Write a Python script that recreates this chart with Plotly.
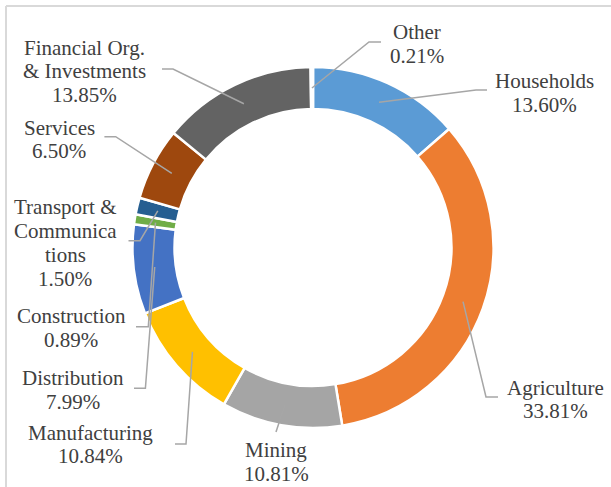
import math
import plotly.graph_objects as go

# ---- data ----
categories = ["Households", "Agriculture", "Mining", "Manufacturing", "Distribution",
              "Construction", "Transport & Communications", "Services",
              "Financial Org. & Investments", "Other"]
values = [13.60, 33.81, 10.81, 10.84, 7.99, 0.89, 1.50, 6.50, 13.85, 0.21]
label_text = ["Households", "Agriculture", "Mining", "Manufacturing", "Distribution",
              "Construction", "Transport &<br>Communica<br>tions", "Services",
              "Financial Org.<br>& Investments", "Other"]
colors = ["#5B9BD5", "#ED7D31", "#A5A5A5", "#FFC000", "#4472C4",
          "#70AD47", "#255E91", "#9E480E", "#636363", "#997300"]

# ---- layout (pixel geometry) ----
W, H = 611, 487
CX, CY = 313.0, 247.5
R_OUT = 180.5
HOLE = 0.767
R_MID = (R_OUT + R_OUT * HOLE) / 2
FONT = "Liberation Serif"
FONT_SIZE = 21
LINE_H = 23.7

# label block centres and leader-line elbow/end points (layout, in pixels)
label_pos = {
    "Households": (544, 93),
    "Agriculture": (555, 399.5),
    "Mining": (276, 462),
    "Manufacturing": (90, 444.5),
    "Distribution": (73, 390),
    "Construction": (71, 328),
    "Transport & Communications": (65, 243),
    "Services": (59, 139.5),
    "Financial Org. & Investments": (84, 71.3),
    "Other": (417, 44),
}
leader_pts = {
    "Households": [(476, 90), (487, 90)],
    "Agriculture": [(486, 397), (498, 397)],
    "Mining": [(276, 432)],
    "Manufacturing": [(186, 444), (175, 444)],
    "Distribution": [(145.4, 388.3), (134, 388.3)],
    "Construction": [(148.3, 326.7), (136, 326.7)],
    "Transport & Communications": [(140, 240.7), (128.5, 240.7)],
    "Services": [(115.7, 136.7), (104.4, 136.7)],
    "Financial Org. & Investments": [(173, 69), (162, 69)],
    "Other": [(369, 42), (381, 42)],
}

fig = go.Figure()
fig.add_trace(go.Pie(
    labels=categories, values=values, sort=False, direction="clockwise", rotation=0,
    hole=HOLE, marker=dict(colors=colors, line=dict(color="white", width=2.5)),
    textinfo="none", hoverinfo="label+percent", showlegend=False,
    domain=dict(x=[(CX - R_OUT) / W, (CX + R_OUT) / W],
                y=[(H - CY - R_OUT) / H, (H - CY + R_OUT) / H]),
))

total = sum(values)
cum = 0.0
shapes = []
annotations = []
for cat, v, txt in zip(categories, values, label_text):
    mid = (cum + v / 2) / total * 2 * math.pi
    cum += v
    ax_ = CX + R_MID * math.sin(mid)
    ay_ = CY - R_MID * math.cos(mid)
    pts = [(ax_, ay_)] + leader_pts[cat]
    path = "M " + " L ".join(f"{x:.2f},{y:.2f}" for x, y in pts)
    shapes.append(dict(type="path", path=path, xref="x", yref="y",
                       line=dict(color="#A6A6A6", width=1.5), layer="above"))
    lx, ly = label_pos[cat]
    lines = txt.split("<br>") + [f"{v:.2f}%"]
    n = len(lines)
    for k, line in enumerate(lines):
        annotations.append(dict(x=lx, y=ly + (k - (n - 1) / 2) * LINE_H,
                                xref="x", yref="y", showarrow=False,
                                text=line, align="center",
                                xanchor="center", yanchor="middle",
                                font=dict(family=FONT, size=FONT_SIZE, color="#404040")))

# chart border (top and left edges visible)
shapes.append(dict(type="line", xref="x", yref="y", x0=6, y0=6, x1=W + 5, y1=6,
                   line=dict(color="#D9D9D9", width=2), layer="below"))
shapes.append(dict(type="line", xref="x", yref="y", x0=6, y0=6, x1=6, y1=H + 5,
                   line=dict(color="#D9D9D9", width=2), layer="below"))

fig.update_layout(
    width=W, height=H, margin=dict(l=0, r=0, t=0, b=0),
    paper_bgcolor="white", plot_bgcolor="rgba(0,0,0,0)",
    font=dict(family=FONT),
    xaxis=dict(range=[0, W], visible=False, fixedrange=True),
    yaxis=dict(range=[H, 0], visible=False, fixedrange=True),
    shapes=shapes, annotations=annotations,
)
fig.write_html("out.html", config={"displayModeBar": False},
               post_script="document.body.style.margin='0px';document.body.style.overflow='hidden';")
